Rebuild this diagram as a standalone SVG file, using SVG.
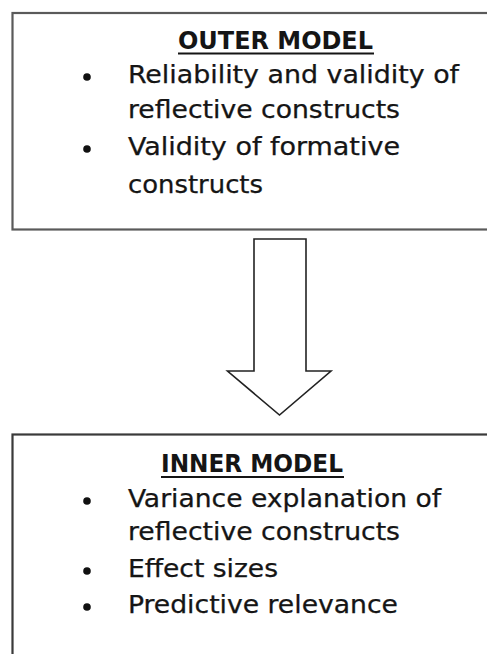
<svg xmlns="http://www.w3.org/2000/svg" width="487" height="654" viewBox="0 0 487 654">
  <style>
    .box { fill: #ffffff; stroke: #5a5a5a; stroke-width: 2.2; }
    .box2 { fill: #ffffff; stroke: #3a3a3a; stroke-width: 2.2; }
    .head { font-family: "DejaVu Sans Condensed", "DejaVu Sans", sans-serif; font-size: 24px; font-weight: bold; fill: #151515; }
    .item { font-family: "DejaVu Sans Condensed", "DejaVu Sans", sans-serif; font-size: 25px; fill: #151515; stroke: #151515; stroke-width: 0.25; }
    .rule { stroke: #151515; stroke-width: 2; }
    .dot { fill: #111111; }
    .arrow { fill: #ffffff; stroke: #222222; stroke-width: 1.6; stroke-linejoin: miter; }
  </style>

  <rect width="487" height="654" fill="#ffffff"/>

  <!-- upper block: measurement model -->
  <g id="outer-model">
    <rect class="box" x="12.5" y="13" width="490" height="216.5"/>
    <text class="head" x="178" y="49" textLength="195" lengthAdjust="spacingAndGlyphs">OUTER MODEL</text>
    <line class="rule" x1="178" y1="53.5" x2="374" y2="53.5"/>
    <circle class="dot" cx="87" cy="77" r="3.8"/>
    <text class="item" x="128" y="83" textLength="331" lengthAdjust="spacingAndGlyphs">Reliability and validity of</text>
    <text class="item" x="128" y="118" textLength="272" lengthAdjust="spacingAndGlyphs">reflective constructs</text>
    <circle class="dot" cx="87" cy="149" r="3.8"/>
    <text class="item" x="128" y="155" textLength="272" lengthAdjust="spacingAndGlyphs">Validity of formative</text>
    <text class="item" x="128" y="193" textLength="135" lengthAdjust="spacingAndGlyphs">constructs</text>
  </g>

  <!-- connector: block arrow -->
  <g id="connectors">
    <path class="arrow" d="M254 239 L306 239 L306 371 L331 371 L279.5 415 L227.5 371 L254 371 Z"/>
  </g>

  <!-- lower block: structural model -->
  <g id="inner-model">
    <rect class="box2" x="12.5" y="434.5" width="490" height="240"/>
    <text class="head" x="161" y="472" textLength="182" lengthAdjust="spacingAndGlyphs">INNER MODEL</text>
    <line class="rule" x1="161" y1="477" x2="344" y2="477"/>
    <circle class="dot" cx="87" cy="501" r="3.8"/>
    <text class="item" x="128" y="507" textLength="313" lengthAdjust="spacingAndGlyphs">Variance explanation of</text>
    <text class="item" x="128" y="540" textLength="272" lengthAdjust="spacingAndGlyphs">reflective constructs</text>
    <circle class="dot" cx="87" cy="571" r="3.8"/>
    <text class="item" x="128" y="577" textLength="150" lengthAdjust="spacingAndGlyphs">Effect sizes</text>
    <circle class="dot" cx="87" cy="607" r="3.8"/>
    <text class="item" x="128" y="613" textLength="270" lengthAdjust="spacingAndGlyphs">Predictive relevance</text>
  </g>
</svg>
